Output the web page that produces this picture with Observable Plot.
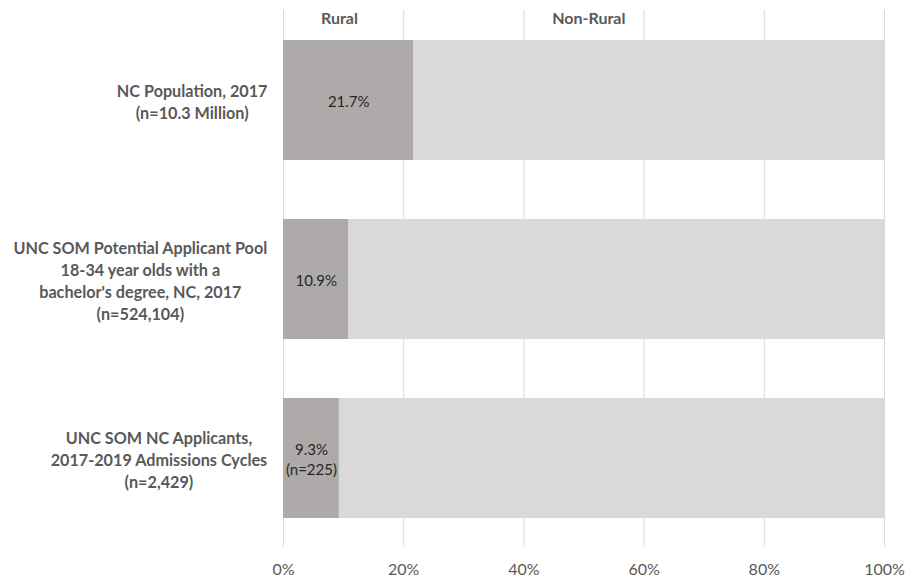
<!DOCTYPE html>
<html>
<head>
<meta charset="utf-8">
<script src="https://cdn.jsdelivr.net/npm/d3@7"></script>
<script src="https://cdn.jsdelivr.net/npm/@observablehq/plot@0.6"></script>
<style>
  html, body { margin: 0; padding: 0; background: #fff; }
  #chart svg { display: block; }
</style>
</head>
<body>
<div id="chart"></div>
<script>
const categories = [
  "NC Population, 2017\n(n=10.3 Million)",
  "UNC SOM Potential Applicant Pool\n18-34 year olds with a\nbachelor's degree, NC, 2017\n(n=524,104)",
  "UNC SOM NC Applicants,\n2017-2019 Admissions Cycles\n(n=2,429)"
];
const series = ["Rural", "Non-Rural"];
const ruralValues = [0.217, 0.109, 0.093];
const nonRuralValues = [0.783, 0.891, 0.907];
const ruralLabels = ["21.7%", "10.9%", "9.3%\n(n=225)"];
const headerLabels = ["Rural", "Non-Rural"];
const headerPositions = [0.093, 0.508];
const ticks = [0, 0.2, 0.4, 0.6, 0.8, 1];
const tickLabels = ["0%", "20%", "40%", "60%", "80%", "100%"];

const table = [];
categories.forEach((c, i) => table.push({category: c, series: "Rural", value: ruralValues[i]}));
categories.forEach((c, i) => table.push({category: c, series: "Non-Rural", value: nonRuralValues[i]}));
const ruralText = categories.map((c, i) => ({category: c, value: ruralValues[i], label: ruralLabels[i]}));
const headers = headerLabels.map((h, i) => ({label: h, x: headerPositions[i]}));

const FONT = "Lato, 'Open Sans', sans-serif";
const labelSize = 16.2;
const ctx = document.createElement("canvas").getContext("2d");
ctx.font = `bold ${labelSize}px Lato`;
const blockWidth = s => Math.max(...s.split("\n").map(l => ctx.measureText(l).width));

const labelMarks = categories.map(c => Plot.text([c], {
  x: () => 0, y: d => d, text: d => d,
  textAnchor: "middle", lineAnchor: "middle", lineHeight: 1.36,
  dx: -(16 + blockWidth(c) / 2),
  fontWeight: "bold", fontSize: labelSize, fill: "#595959"
}));

const chart = Plot.plot({
  width: 914, height: 580,
  marginLeft: 283, marginRight: 30, marginTop: 10, marginBottom: 33,
  style: {fontFamily: FONT, background: "#fff", overflow: "visible"},
  x: {domain: [0, 1], axis: null},
  y: {domain: categories, paddingInner: 0.33, paddingOuter: 0.165, axis: null},
  color: {domain: series, range: ["#AEAAAA", "#D9D9D9"]},
  marks: [
    Plot.ruleX(ticks, {stroke: "#D9D9D9", strokeWidth: 1}),
    Plot.barX(table, {x: "value", y: "category", fill: "series", inset: 0}),
    Plot.text(ruralText, {
      x: d => d.value / 2, y: "category", text: "label",
      lineAnchor: "middle", lineHeight: 1.35,
      fontSize: 15, fill: "#262626"
    }),
    Plot.text(headers, {
      x: "x", text: "label", frameAnchor: "top", dy: 8,
      lineAnchor: "middle", fontWeight: "bold", fontSize: 16, fill: "#595959"
    }),
    Plot.axisX({
      ticks, tickSize: 0, tickPadding: 16,
      tickFormat: d => tickLabels[ticks.indexOf(d)],
      fontSize: 16, fill: "#595959", label: null
    }),
    ...labelMarks
  ]
});
document.getElementById("chart").appendChild(chart);
</script>
</body>
</html>
